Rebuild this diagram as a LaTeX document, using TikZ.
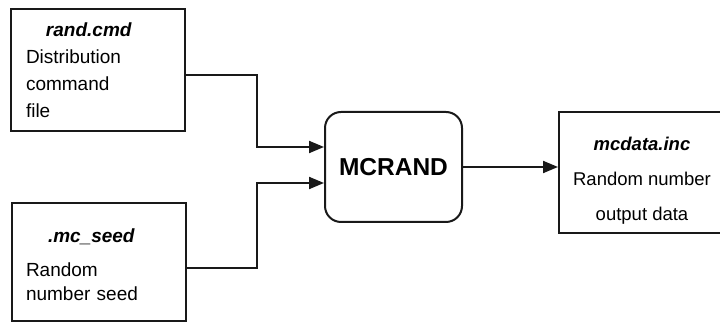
\documentclass[tikz,border=0pt]{standalone}
\usepackage{fontspec}
\setmainfont{Liberation Sans}
\usetikzlibrary{arrows.meta,positioning,calc}

\begin{document}
\begin{tikzpicture}[x=1pt,y=1pt,
  box/.style={draw=black!90,line width=2pt,align=left,inner ysep=0pt},
  txt/.style={align=center,inner sep=0pt},
  arr/.style={-{Triangle[length=15pt,width=12pt]},line width=2pt,draw=black!90}]
\useasboundingbox (0,0) rectangle (720,323);
\node[box,minimum width=174pt,minimum height=122pt,text width=144pt,inner xsep=15pt,
  font=\fontsize{19}{27}\selectfont] (cmd) at (98,253)
  {\hspace*{20pt}\textbf{\textit{rand.cmd}}\\Distribution\\command\\file};
\node[box,minimum width=174pt,minimum height=118pt] (seed) at (99,61) {};
\node[txt,align=left,text width=146pt,font=\fontsize{19}{24}\selectfont] (seedtext)
  at ([yshift=-3pt]seed.center)
  {\hspace*{22pt}\textbf{\textit{.mc\_seed}}\\[10pt]Random\\number seed};
\node[box,align=center,rounded corners=16pt,minimum width=137pt,minimum height=110pt,
  font=\fontsize{24.5}{28}\selectfont\bfseries] (mcrand) at (393.5,156) {MCRAND};
\node[box,minimum width=166pt,minimum height=121pt] (out) at (642,150.5) {};
\node[txt,font=\fontsize{18.5}{35}\selectfont] (outtext) at ([yshift=-8pt]out.center)
  {\textbf{\textit{mcdata.inc}}\\Random number\\output data};
\draw[arr] ([yshift=-5pt]cmd.east) -- ++(71,0) |- ([yshift=20pt]mcrand.west);
\draw[arr] ([yshift=-6pt]seed.east) -- ++(70,0) |- ([yshift=-16pt]mcrand.west);
\draw[arr] (mcrand.east) -- (mcrand.east -| out.west);
\end{tikzpicture}
\end{document}
